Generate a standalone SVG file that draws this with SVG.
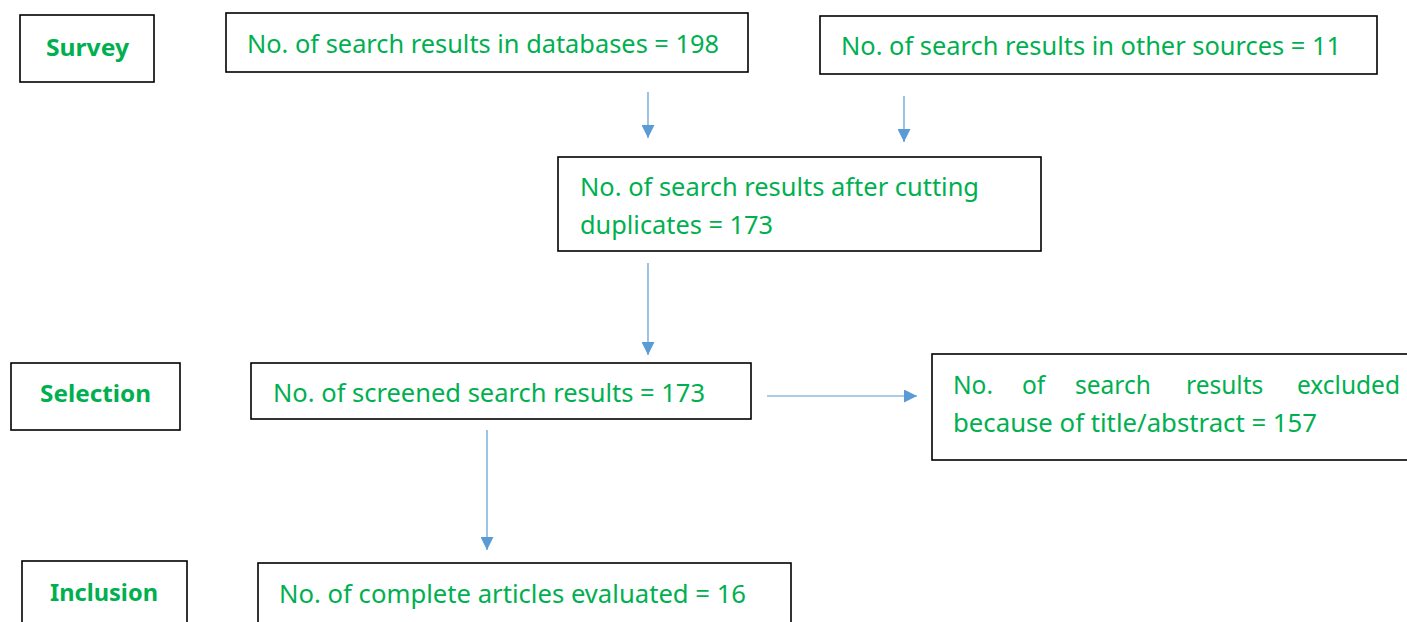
<svg xmlns="http://www.w3.org/2000/svg" width="1407" height="622" viewBox="0 0 1407 622">
<style>
.box{fill:#fff;stroke:#000;stroke-width:1.6}
.t{font-family:"Noto Sans","Open Sans",sans-serif;font-size:24.5px;fill:#00B050}
.b{font-family:"Noto Sans","Open Sans",sans-serif;font-size:24px;font-weight:bold;fill:#00B050}
.c{stroke:#5B9BD5;stroke-width:1.2;fill:none;marker-end:url(#ah)}
</style>
<defs>
<marker id="ah" viewBox="0 0 10 10" refX="10" refY="5" markerWidth="16" markerHeight="13" markerUnits="userSpaceOnUse" orient="auto">
<path d="M0,0 L10,5 L0,10 Z" fill="#5B9BD5"/>
</marker>
</defs>
<rect width="1407" height="622" fill="#fff"/>
<g id="connectors">
<line class="c" x1="648" y1="92" x2="648" y2="138"/>
<line class="c" x1="904" y1="96" x2="904" y2="142"/>
<line class="c" x1="648" y1="263" x2="648" y2="355"/>
<line class="c" x1="767" y1="396" x2="917" y2="396"/>
<line class="c" x1="487" y1="430" x2="487" y2="550"/>
</g>
<g id="survey">
<rect class="box" x="20" y="15" width="134" height="67"/>
<text class="b" x="46" y="56" textLength="83" lengthAdjust="spacingAndGlyphs">Survey</text>
</g>
<g id="databases">
<rect class="box" x="226" y="13" width="522" height="59"/>
<text class="t" x="247" y="53" textLength="472" lengthAdjust="spacingAndGlyphs">No. of search results in databases = 198</text>
</g>
<g id="other-sources">
<rect class="box" x="820" y="16" width="557" height="58"/>
<text class="t" x="841" y="55" textLength="500" lengthAdjust="spacingAndGlyphs">No. of search results in other sources = 11</text>
</g>
<g id="duplicates">
<rect class="box" x="558" y="157" width="483" height="94"/>
<text class="t" x="580" y="196" textLength="399" lengthAdjust="spacingAndGlyphs">No. of search results after cutting</text>
<text class="t" x="580" y="234" textLength="193" lengthAdjust="spacingAndGlyphs">duplicates = 173</text>
</g>
<g id="selection">
<rect class="box" x="11" y="363" width="169" height="67"/>
<text class="b" x="40" y="402" textLength="111" lengthAdjust="spacingAndGlyphs">Selection</text>
</g>
<g id="screened">
<rect class="box" x="251" y="363" width="500" height="56"/>
<text class="t" x="273" y="402" textLength="432" lengthAdjust="spacingAndGlyphs">No. of screened search results = 173</text>
</g>
<g id="excluded">
<rect class="box" x="932" y="354" width="480" height="106"/>
<text class="t" y="394"><tspan x="953">No.</tspan><tspan x="1022">of</tspan><tspan x="1075">search</tspan><tspan x="1186">results</tspan><tspan x="1297">excluded</tspan></text>
<text class="t" x="953" y="432" textLength="364" lengthAdjust="spacingAndGlyphs">because of title/abstract = 157</text>
</g>
<g id="inclusion">
<rect class="box" x="22" y="561" width="165" height="70"/>
<text class="b" x="50" y="601" textLength="108" lengthAdjust="spacingAndGlyphs">Inclusion</text>
</g>
<g id="complete">
<rect class="box" x="258" y="563" width="533" height="70"/>
<text class="t" x="279" y="603" textLength="467" lengthAdjust="spacingAndGlyphs">No. of complete articles evaluated = 16</text>
</g>
</svg>
